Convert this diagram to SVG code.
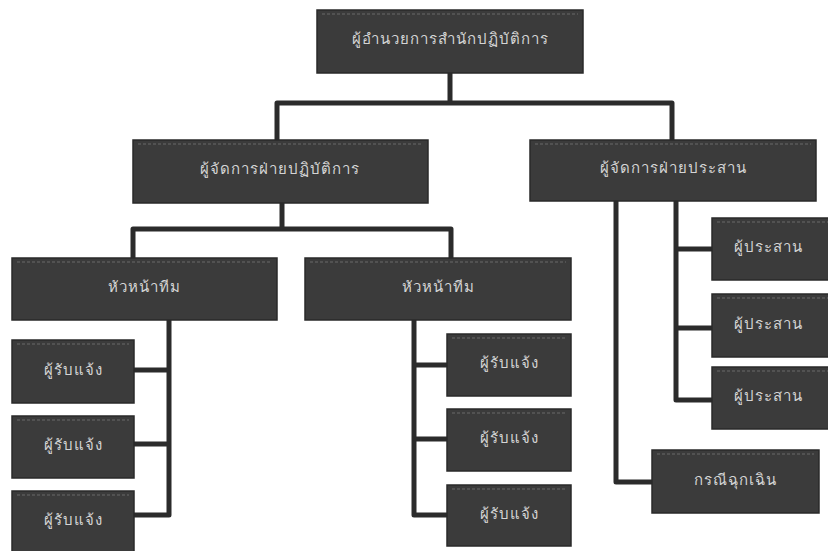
<svg xmlns="http://www.w3.org/2000/svg" width="828" height="551" viewBox="0 0 828 551">
<style>
.box{fill:#3b3b3b;stroke:#2a2a2a;stroke-width:1.5}
.hl{stroke:#6a6a6a;stroke-width:1;stroke-dasharray:3 2}
.t{fill:#d4d4d4;font-family:"Noto Sans","DejaVu Sans",sans-serif;font-size:15px;letter-spacing:1px;text-anchor:middle;dominant-baseline:central}
.c{fill:none;stroke:#2b2b2b;stroke-width:5;stroke-linejoin:round}
</style>
<rect width="828" height="551" fill="#ffffff"/>
<g id="connectors">
<path class="c" d="M450 73 V103 M277 140 V103 H672 V140"/>
<path class="c" d="M282 203 V229 M133 258 V229 H451 V258"/>
<path class="c" d="M134 370 H169 V515 H134 M134 444 H169 M169 320 V370"/>
<path class="c" d="M447 365 H414 V515 H447 M447 439 H414 M414 320 V365"/>
<path class="c" d="M616 201 V482 H652"/>
<path class="c" d="M676 201 V400 H712 M676 249 H712 M676 328 H712"/>
</g>
<g id="n-top"><rect class="box" x="317" y="10" width="266" height="63"/><line class="hl" x1="322" y1="14" x2="578" y2="14"/><text class="t" x="450" y="38">ผู้อำนวยการสำนักปฏิบัติการ</text></g>
<g id="n-mgr-ops"><rect class="box" x="133" y="140" width="295" height="63"/><line class="hl" x1="138" y1="144" x2="423" y2="144"/><text class="t" x="280" y="168">ผู้จัดการฝ่ายปฏิบัติการ</text></g>
<g id="n-mgr-coord"><rect class="box" x="530" y="140" width="286" height="61"/><line class="hl" x1="535" y1="144" x2="811" y2="144"/><text class="t" x="673" y="167">ผู้จัดการฝ่ายประสาน</text></g>
<g id="n-lead1"><rect class="box" x="12" y="258" width="265" height="62"/><line class="hl" x1="17" y1="262" x2="272" y2="262"/><text class="t" x="144" y="286">หัวหน้าทีม</text></g>
<g id="n-lead2"><rect class="box" x="305" y="258" width="266" height="62"/><line class="hl" x1="310" y1="262" x2="566" y2="262"/><text class="t" x="438" y="286">หัวหน้าทีม</text></g>
<g id="n-l1"><rect class="box" x="12" y="340" width="122" height="63"/><line class="hl" x1="17" y1="344" x2="129" y2="344"/><text class="t" x="73" y="369">ผู้รับแจ้ง</text></g>
<g id="n-l2"><rect class="box" x="12" y="416" width="122" height="62"/><line class="hl" x1="17" y1="420" x2="129" y2="420"/><text class="t" x="73" y="444">ผู้รับแจ้ง</text></g>
<g id="n-l3"><rect class="box" x="12" y="491" width="122" height="62"/><line class="hl" x1="17" y1="495" x2="129" y2="495"/><text class="t" x="73" y="519">ผู้รับแจ้ง</text></g>
<g id="n-m1"><rect class="box" x="447" y="334" width="124" height="62"/><line class="hl" x1="452" y1="338" x2="566" y2="338"/><text class="t" x="509" y="362">ผู้รับแจ้ง</text></g>
<g id="n-m2"><rect class="box" x="447" y="409" width="124" height="62"/><line class="hl" x1="452" y1="413" x2="566" y2="413"/><text class="t" x="509" y="437">ผู้รับแจ้ง</text></g>
<g id="n-m3"><rect class="box" x="447" y="485" width="124" height="61"/><line class="hl" x1="452" y1="489" x2="566" y2="489"/><text class="t" x="509" y="513">ผู้รับแจ้ง</text></g>
<g id="n-r1"><rect class="box" x="712" y="218" width="120" height="62"/><line class="hl" x1="717" y1="222" x2="828" y2="222"/><text class="t" x="768" y="246">ผู้ประสาน</text></g>
<g id="n-r2"><rect class="box" x="712" y="294" width="120" height="63"/><line class="hl" x1="717" y1="298" x2="828" y2="298"/><text class="t" x="768" y="323">ผู้ประสาน</text></g>
<g id="n-r3"><rect class="box" x="712" y="367" width="120" height="62"/><line class="hl" x1="717" y1="371" x2="828" y2="371"/><text class="t" x="768" y="395">ผู้ประสาน</text></g>
<g id="n-emerg"><rect class="box" x="652" y="450" width="167" height="63"/><line class="hl" x1="657" y1="454" x2="814" y2="454"/><text class="t" x="735" y="479">กรณีฉุกเฉิน</text></g>
</svg>
